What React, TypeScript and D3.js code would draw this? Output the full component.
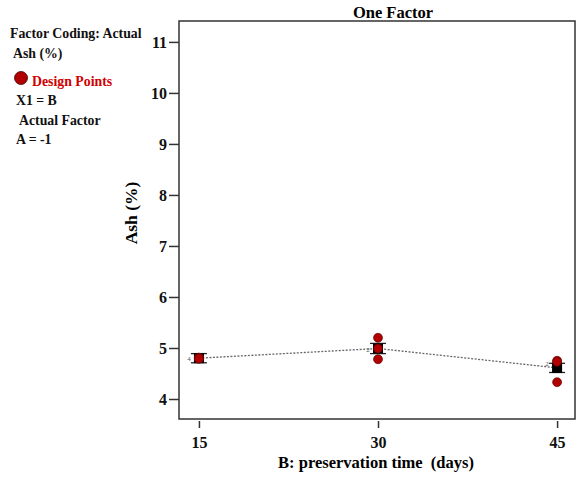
import React, { useEffect, useRef } from "react";
import * as d3 from "d3";

// preservation time levels (days)
const levels = [15, 30, 45];
// predicted mean Ash (%) at each level
const means = [4.8, 4.99, 4.61];
// LSD half-width of the bars
const lsd = [0.09, 0.1, 0.09];
// design points: [time, ash]
const designPoints: [number, number][] = [
  [15, 4.8], [15, 4.81], [15, 4.79],
  [30, 5.2], [30, 4.99], [30, 4.78],
  [45, 4.75], [45, 4.73], [45, 4.33],
];
// little counts of overlapping points
const overlapLabels: [number, number, string][] = [
  [15, 4.8, "4"],
  [30, 4.99, "2"],
  [45, 4.7, "2"],
];
const yTicks = [4, 5, 6, 7, 8, 9, 10, 11];
const legendLines = ["Factor Coding: Actual", "Ash (%)"];

export default function App() {
  const ref = useRef<SVGSVGElement>(null);

  useEffect(() => {
    const svg = d3.select(ref.current);
    svg.selectAll("*").remove();

    const left = 179, right = 575, top = 21, bottom = 419;
    const font = "'Liberation Serif', 'Times New Roman', serif";

    const x = d3.scaleLinear().domain([13.33, 46.5]).range([left, right]);
    const y = d3.scaleLinear().domain([3.608, 11.41]).range([bottom, top]);

    svg.append("rect")
      .attr("x", left).attr("y", top)
      .attr("width", right - left).attr("height", bottom - top)
      .attr("fill", "none").attr("stroke", "#333").attr("stroke-width", 1.5);

    // y axis
    const yAxis = svg.append("g")
      .attr("transform", `translate(${left},0)`)
      .call(d3.axisLeft(y).tickValues(yTicks).tickSize(10).tickFormat(d3.format("d")));
    yAxis.select(".domain").remove();
    yAxis.selectAll("line").attr("stroke", "#333").attr("stroke-width", 1.5);
    yAxis.selectAll("text")
      .attr("font-family", font).attr("font-weight", "bold")
      .attr("font-size", 16).attr("fill", "#111").attr("x", -12);

    // x axis, offset below the box
    const xAxis = svg.append("g")
      .attr("transform", `translate(0,${bottom + 2})`)
      .call(d3.axisBottom(x).tickValues(levels).tickSize(7).tickFormat(d3.format("d")));
    xAxis.select(".domain").remove();
    xAxis.selectAll("line").attr("stroke", "#333").attr("stroke-width", 1.5);
    xAxis.selectAll("text")
      .attr("font-family", font).attr("font-weight", "bold")
      .attr("font-size", 16).attr("fill", "#111").attr("y", 16);

    svg.append("text")
      .attr("x", 376).attr("y", 468)
      .attr("text-anchor", "middle")
      .attr("font-family", font).attr("font-weight", "bold").attr("font-size", 16.5)
      .attr("xml:space", "preserve")
      .style("white-space", "pre")
      .text("B: preservation time  (days)");

    svg.append("text")
      .attr("transform", `translate(137,213) rotate(-90)`)
      .attr("text-anchor", "middle")
      .attr("font-family", font).attr("font-weight", "bold").attr("font-size", 17.5)
      .text("Ash (%)");

    svg.append("text")
      .attr("x", 393).attr("y", 18)
      .attr("text-anchor", "middle")
      .attr("font-family", font).attr("font-weight", "bold").attr("font-size", 16.5)
      .text("One Factor");

    // predicted line
    const line = d3.line<number>()
      .x((d, i) => x(levels[i]))
      .y(d => y(d));
    svg.append("path")
      .datum(means)
      .attr("d", line)
      .attr("fill", "none")
      .attr("stroke", "#666")
      .attr("stroke-width", 1.3)
      .attr("stroke-dasharray", "2,1.5");

    // LSD bars
    levels.forEach((lv, i) => {
      const cx = x(lv);
      const y1 = y(means[i] + lsd[i]);
      const y2 = y(means[i] - lsd[i]);
      const g = svg.append("g").attr("stroke", "#222").attr("stroke-width", 1.3);
      g.append("line").attr("x1", cx - 8).attr("x2", cx + 8).attr("y1", y1).attr("y2", y1);
      g.append("line").attr("x1", cx - 8).attr("x2", cx + 8).attr("y1", y2).attr("y2", y2);
      g.append("line").attr("x1", cx - 4).attr("x2", cx - 4).attr("y1", y1).attr("y2", y2);
      g.append("line").attr("x1", cx + 4).attr("x2", cx + 4).attr("y1", y1).attr("y2", y2);
      svg.append("rect")
        .attr("x", cx - 5).attr("y", y(means[i]) - 5)
        .attr("width", 10).attr("height", 10)
        .attr("fill", "#000");
    });

    // design points
    svg.append("g")
      .selectAll("circle")
      .data(designPoints)
      .join("circle")
      .attr("cx", d => x(d[0]))
      .attr("cy", d => y(d[1]))
      .attr("r", 4.5)
      .attr("fill", "#b00000")
      .attr("stroke", "#500")
      .attr("stroke-width", 0.6);

    svg.append("g")
      .selectAll("text")
      .data(overlapLabels)
      .join("text")
      .attr("x", d => x(d[0]) - 10)
      .attr("y", d => y(d[1]) + 3)
      .attr("text-anchor", "middle")
      .attr("font-family", font).attr("font-size", 7).attr("fill", "#555")
      .text(d => d[2]);

    // legend block
    const leg = svg.append("g")
      .attr("font-family", font).attr("font-weight", "bold").attr("font-size", 13.8)
      .attr("fill", "#111");
    leg.append("text").attr("x", 10).attr("y", 38).text(legendLines[0]);
    leg.append("text").attr("x", 13).attr("y", 58).text(legendLines[1]);
    svg.append("circle").attr("cx", 21).attr("cy", 78).attr("r", 6.5)
      .attr("fill", "#b00000").attr("stroke", "#400").attr("stroke-width", 0.8);
    leg.append("text").attr("x", 32).attr("y", 86).attr("fill", "#d00000").text("Design Points");
    leg.append("text").attr("x", 16).attr("y", 105).text("X1 = B");
    leg.append("text").attr("x", 19).attr("y", 125).text("Actual Factor");
    leg.append("text").attr("x", 16).attr("y", 144).text("A = -1");
  }, []);

  return (
    <svg
      ref={ref}
      width={582}
      height={478}
      style={{ position: "absolute", left: 0, top: 0, background: "#fff" }}
    />
  );
}
